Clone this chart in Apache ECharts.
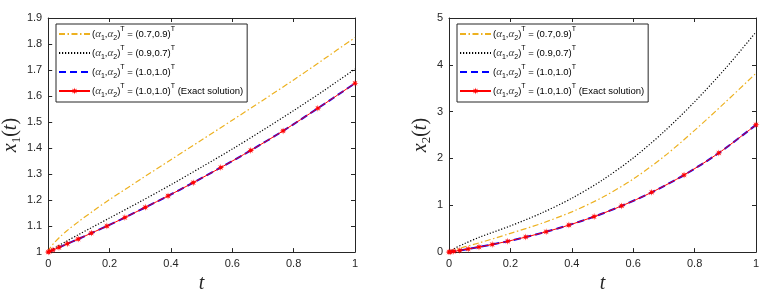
<!DOCTYPE html>
<html>
<head>
<meta charset="utf-8">
<script src="https://cdn.jsdelivr.net/npm/echarts@6/dist/echarts.min.js"></script>
<style>
html,body{margin:0;padding:0;background:#fff;}
#chart{width:776px;height:299px;}
</style>
</head>
<body>
<div id="chart"></div>
<script>
// ---- data ----
// graded mesh nodes used for the exact / numerical alpha=(1,1) solution
var tNodes = [0, 0.0039, 0.0156, 0.0352, 0.0625, 0.0977, 0.1406, 0.1914, 0.25, 0.3164, 0.3906, 0.4727, 0.5625, 0.6602, 0.7656, 0.8789, 1];
var x1Exact = [1.000, 1.002, 1.008, 1.018, 1.032, 1.050, 1.073, 1.100, 1.133, 1.172, 1.216, 1.267, 1.325, 1.391, 1.466, 1.553, 1.649];
var x2Exact = [0.000, 0.004, 0.016, 0.036, 0.067, 0.108, 0.162, 0.232, 0.321, 0.434, 0.577, 0.758, 0.987, 1.277, 1.646, 2.117, 2.718];

// x1, alpha = (0.7, 0.9)
var t1a = [0, 0.001, 0.005, 0.01, 0.02, 0.04, 0.06, 0.1, 0.15, 0.2, 0.3, 0.4, 0.5, 0.6, 0.7, 0.8, 0.9, 1];
var x1a = [1.000, 1.004, 1.014, 1.022, 1.036, 1.060, 1.081, 1.118, 1.161, 1.202, 1.279, 1.355, 1.431, 1.507, 1.584, 1.662, 1.743, 1.825];
// x1, alpha = (0.9, 0.7)
var t1b = [0, 0.01, 0.03, 0.06, 0.1, 0.2, 0.3, 0.4, 0.5, 0.6, 0.7, 0.8, 0.9, 1];
var x1b = [1.000, 1.008, 1.022, 1.042, 1.068, 1.131, 1.194, 1.259, 1.327, 1.396, 1.469, 1.544, 1.622, 1.704];

// x2 curves
var t2 = [0, 0.02, 0.05, 0.1, 0.2, 0.3, 0.4, 0.5, 0.6, 0.7, 0.8, 0.9, 1];
var x2a = [0, 0.05, 0.11, 0.20, 0.40, 0.61, 0.86, 1.17, 1.56, 2.04, 2.60, 3.20, 3.82];
var x2b = [0, 0.085, 0.18, 0.32, 0.56, 0.83, 1.15, 1.54, 2.01, 2.57, 3.21, 3.92, 4.70];

var xTicks = {min: 0, max: 1, interval: 0.2};
var y1Ticks = {min: 1, max: 1.9, interval: 0.1};
var y2Ticks = {min: 0, max: 5, interval: 1};

var seriesNames = ['a79', 'a97', 'a11', 'exact'];
var legendParams = ['(0.7,0.9)', '(0.9,0.7)', '(1.0,1.0)', '(1.0,1.0)'];
var legendSuffix = ['', '', '', ' (Exact solution)'];

function pairs(ts, ys) { return ts.map(function (t, i) { return [t, ys[i]]; }); }

var axisColor = '#262626';
var sans = 'Liberation Sans, Arial, Helvetica, sans-serif';
var serif = 'Liberation Serif, Times New Roman, serif';

function xAx(g, top) {
  return {
    gridIndex: g, type: 'value', min: xTicks.min, max: xTicks.max, interval: xTicks.interval,
    position: top ? 'top' : 'bottom',
    axisLine: {show: true, onZero: false, lineStyle: {color: axisColor, width: 1}},
    axisTick: {show: true, inside: true, length: 4, lineStyle: {color: axisColor}},
    axisLabel: {show: !top, margin: 6, color: axisColor, fontSize: 11, fontFamily: sans},
    splitLine: {show: false},
    name: top ? '' : '{i|t}', nameLocation: 'middle', nameGap: 16,
    nameTextStyle: {rich: {i: {fontFamily: serif, fontStyle: 'italic', fontSize: 20, color: axisColor}}}
  };
}
function yAx(g, right, tk, sub) {
  return {
    gridIndex: g, type: 'value', min: tk.min, max: tk.max, interval: tk.interval,
    position: right ? 'right' : 'left',
    axisLine: {show: true, onZero: false, lineStyle: {color: axisColor, width: 1}},
    axisTick: {show: true, inside: true, length: 4, lineStyle: {color: axisColor}},
    axisLabel: {show: !right, margin: 6, color: axisColor, fontSize: 11, fontFamily: sans},
    splitLine: {show: false},
    name: right ? '' : '{i|x}{s|' + sub + '}{n|(}{i|t}{n|)}',
    nameLocation: 'middle', nameGap: 16, nameRotate: 90,
    nameTextStyle: {rich: {
      i: {fontFamily: serif, fontStyle: 'italic', fontSize: 20, color: axisColor, lineHeight: 24, verticalAlign: 'middle'},
      n: {fontFamily: serif, fontSize: 20, color: axisColor, lineHeight: 24, verticalAlign: 'middle'},
      s: {fontFamily: serif, fontSize: 13, color: axisColor, lineHeight: 12, verticalAlign: 'bottom'}
    }}
  };
}

var starPath = 'path://M0,-1L0.153,-0.37L0.707,-0.707L0.37,-0.153L1,0L0.37,0.153L0.707,0.707L0.153,0.37L0,1L-0.153,0.37L-0.707,0.707L-0.37,0.153L-1,0L-0.37,-0.153L-0.707,-0.707L-0.153,-0.37Z';

function makeSeries(g, ta, ya, tb, yb, te, ye) {
  return [
    {name: seriesNames[0], type: 'line', xAxisIndex: 2 * g, yAxisIndex: 2 * g, data: pairs(ta, ya),
      symbol: 'none', smooth: 0.3, lineStyle: {color: '#EDB120', width: 1.2, type: [6, 2.5, 1.5, 2.5]}, itemStyle: {color: '#EDB120'}, z: 2},
    {name: seriesNames[1], type: 'line', xAxisIndex: 2 * g, yAxisIndex: 2 * g, data: pairs(tb, yb),
      symbol: 'none', smooth: 0.3, lineStyle: {color: '#000000', width: 1.2, type: [1.2, 1.8]}, itemStyle: {color: '#000000'}, z: 3},
    {name: seriesNames[2], type: 'line', xAxisIndex: 2 * g, yAxisIndex: 2 * g, data: pairs(te, ye),
      symbol: 'none', smooth: 0.3, lineStyle: {color: '#0000FF', width: 2, type: [7, 4]}, itemStyle: {color: '#0000FF'}, z: 4},
    {name: seriesNames[3], type: 'line', xAxisIndex: 2 * g, yAxisIndex: 2 * g, data: pairs(te, ye),
      symbol: starPath, symbolSize: 7, showSymbol: true, smooth: 0.3,
      lineStyle: {color: '#FF0000', width: 1}, itemStyle: {color: '#FF0000'}, z: 5}
  ];
}

function legendFmt(name) {
  var i = seriesNames.indexOf(name);
  return '({g|\u03b1}{b|1},{g|\u03b1}{b|2}){p|T} = ' + legendParams[i] + '{p|T}' + legendSuffix[i];
}
function makeLegend(left) {
  return {
    data: seriesNames.map(function (n, i) {
      return i < 3 ? {name: n, itemStyle: {opacity: 0}} : {name: n};
    }),
    orient: 'vertical', left: left, top: 24,
    padding: [2, 4, 3, 2], itemGap: 3, itemWidth: 31, itemHeight: 9,
    backgroundColor: '#ffffff', borderColor: axisColor, borderWidth: 1, borderRadius: 0,
    formatter: legendFmt, selectedMode: false,
    textStyle: {fontFamily: sans, fontSize: 9.5, color: '#000', lineHeight: 16, padding: [0, 0, 0, -3],
      rich: {
        g: {fontFamily: serif, fontStyle: 'italic', fontSize: 11, color: '#444', lineHeight: 16},
        b: {fontFamily: sans, fontSize: 7, color: '#000', lineHeight: 8, verticalAlign: 'bottom'},
        p: {fontFamily: sans, fontSize: 7, color: '#000', lineHeight: 8, verticalAlign: 'top'}
      }}
  };
}

var chart = echarts.init(document.getElementById('chart'), null, {renderer: 'canvas'});
chart.setOption({
  animation: false,
  backgroundColor: '#ffffff',
  grid: [
    {left: 48, top: 18, width: 307, height: 236},
    {left: 449, top: 18, width: 307, height: 236}
  ],
  xAxis: [xAx(0, false), xAx(0, true), xAx(1, false), xAx(1, true)],
  yAxis: [yAx(0, false, y1Ticks, '1'), yAx(0, true, y1Ticks, '1'), yAx(1, false, y2Ticks, '2'), yAx(1, true, y2Ticks, '2')],
  legend: [makeLegend(56), makeLegend(457)],
  series: makeSeries(0, t1a, x1a, t1b, x1b, tNodes, x1Exact).concat(makeSeries(1, t2, x2a, t2, x2b, tNodes, x2Exact))
});
</script>
</body>
</html>
